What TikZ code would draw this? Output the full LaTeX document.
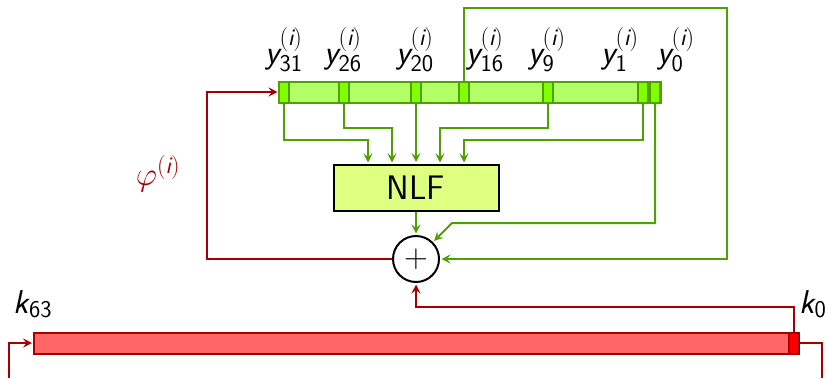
\documentclass[tikz,border=0pt]{standalone}
\usepackage{fix-cm}
\usepackage{amsmath}
\usetikzlibrary{arrows.meta, calc, positioning}
\definecolor{lfsrline}{RGB}{79,160,0}
\definecolor{lfsrfill}{RGB}{179,255,102}
\definecolor{lfsrcell}{RGB}{128,255,0}
\definecolor{nlffill}{RGB}{223,255,128}
\definecolor{keyline}{RGB}{165,0,0}
\definecolor{keyfill}{RGB}{255,102,102}
\definecolor{keycell}{RGB}{255,0,0}
\DeclareMathAlphabet{\mathsl}{TU}{lmss}{m}{sl}
\DeclareMathAlphabet{\mathup}{TU}{lmss}{m}{n}
\DeclareMathSizes{33}{33}{24}{18}
\newcommand{\ybit}[1]{$\mathsl{y}_{\mathup{#1}}^{(\mathsl{i})}$}
\begin{document}
\begin{tikzpicture}[x=1pt, y=-1pt, >={Stealth[length=9pt, width=9pt, inset=3.5pt]},
    greenwire/.style={draw=lfsrline, line width=2pt},
    redwire/.style={draw=keyline, line width=2pt},
    regbar/.style={draw=lfsrline, fill=lfsrfill, line width=2pt, inner sep=0pt, minimum height=21pt},
    regcell/.style={draw=lfsrline, fill=lfsrcell, line width=2pt, inner sep=0pt, minimum height=21pt, minimum width=10pt},
    keybar/.style={draw=keyline, fill=keyfill, line width=2pt, inner sep=0pt, minimum height=21pt},
    keybit/.style={draw=keyline, fill=keycell, line width=2pt, inner sep=0pt, minimum height=21pt, minimum width=10pt},
    bitlabel/.style={anchor=base, font=\fontsize{33}{33}\selectfont}]
    \useasboundingbox (0,0) rectangle (826,378);

    % Registers
    \node[regbar, minimum width=381pt] (lfsr) at (470,92) {};
    \node[keybar, minimum width=764pt] (key) at (416,343) {};
    \foreach \bit/\xpos in {31/284, 26/344, 20/416, 16/464, 9/548, 1/643, 0/655}
        \node[regcell] (y\bit) at (\xpos,92) {};
    \node[keybit] (k0) at (793.5,343) {};

    % Round function
    \node[draw, fill=nlffill, line width=2pt, minimum width=165pt, minimum height=46pt, inner sep=0pt, font=\fontsize{34}{34}\selectfont\sffamily] (nlf) at (416,187.5) {NLF};
    \node[draw, fill=white, circle, line width=2pt, minimum size=46pt, inner sep=0pt, font=\fontsize{33}{33}\selectfont] (add) at (416,259) {$+$};

    % Labels
    \node[bitlabel] (l31) at (284,63) {\ybit{31}};
    \node[bitlabel] (l26) at (343,63) {\ybit{26}};
    \node[bitlabel] (l20) at (415,63) {\ybit{20}};
    \node[bitlabel] (l16) at (485,63) {\ybit{16}};
    \node[bitlabel] (l9) at (547,63) {\ybit{9}};
    \node[bitlabel] (l1) at (620,63) {\ybit{1}};
    \node[bitlabel] (l0) at (676,63) {\ybit{0}};
    \node[bitlabel, text=keyline] (phi) at (158,185) {$\varphi^{(\mathsl{i})}$};
    \node[bitlabel] (k63lab) at (33,313) {$\mathsl{k}_{\mathup{63}}$};
    \node[bitlabel] (k0lab) at (813,313) {$\mathsl{k}_{\mathup{0}}$};

    % NLF inputs
    \coordinate (in31) at (368,164);
    \coordinate (in26) at (392,164);
    \coordinate (in9) at (440,164);
    \coordinate (in1) at (464,164);
    \draw[greenwire, ->, shorten >=1.5pt] (y31.south) |- (368,140) -- (in31);
    \draw[greenwire, ->, shorten >=1.5pt] (y26.south) |- (392,128) -- (in26);
    \draw[greenwire, ->, shorten >=1.5pt] (y20.south) -- (nlf.north);
    \draw[greenwire, ->, shorten >=1.5pt] (y9.south) |- (440,128) -- (in9);
    \draw[greenwire, ->, shorten >=1.5pt] (y1.south) |- (464,140) -- (in1);

    % Feedback
    \draw[greenwire, ->, shorten >=1.5pt] (nlf.south) -- (add.north);
    \draw[greenwire, ->, shorten >=1.5pt] (y0.south) |- (452,223) -- (add.45);
    \draw[greenwire, ->, shorten >=1.5pt] (y16.north) |- (727,8) |- (add.east);
    \draw[redwire, ->, shorten >=1pt] (add.west) -| (207,92) -- (lfsr.west);
    \draw[redwire, ->, shorten >=1.5pt] (k0.north) |- (416,307) -- (add.south);

    % Key register wrap around
    \coordinate (wrapl) at (9,378);
    \coordinate (wrapr) at (822,378);
    \draw[redwire, ->, shorten >=1pt] (wrapl) |- (key.west);
    \draw[redwire] (k0.east) -| (wrapr);
\end{tikzpicture}
\end{document}
